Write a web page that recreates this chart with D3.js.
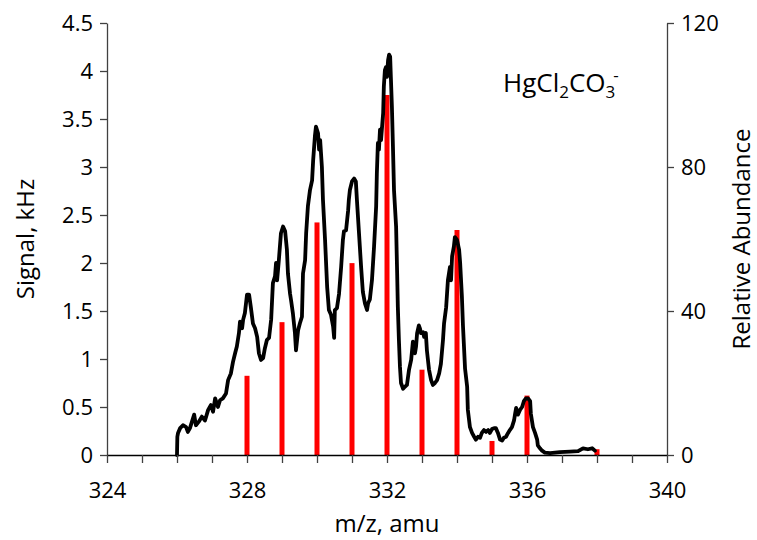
<!DOCTYPE html>
<html>
<head>
<meta charset="utf-8">
<script src="https://cdn.jsdelivr.net/npm/d3@7/dist/d3.min.js"></script>
<style>
  html, body { margin: 0; padding: 0; background: #fff; }
  text { font-family: "Open Sans", "Noto Sans", sans-serif; fill: #000; }
</style>
</head>
<body>
<svg id="chart" width="757" height="540"></svg>
<script>
// ---- data ----
const xTicks = [324, 325, 326, 327, 328, 329, 330, 331, 332, 333, 334, 335, 336, 337, 338, 339, 340];
const xTickLabels = [324, 328, 332, 336, 340];
const leftTicks = [0, 0.5, 1, 1.5, 2, 2.5, 3, 3.5, 4, 4.5];
const rightTicks = [0, 40, 80, 120];

// theoretical isotope pattern (relative abundance)
const barMz = [328, 329, 330, 331, 332, 333, 334, 335, 336, 338];
const barAbundance = [22.0, 36.9, 64.6, 53.3, 100, 23.7, 62.5, 3.9, 16.5, 1.6];

// measured spectrum (m/z, signal kHz)
const specMz = [326.00, 326.01, 326.03, 326.09, 326.17, 326.26, 326.31, 326.37, 326.49, 326.54, 326.63, 326.71, 326.80, 326.89, 326.97, 327.03, 327.09, 327.17, 327.23, 327.31, 327.40, 327.46, 327.54, 327.60, 327.66, 327.71, 327.77, 327.80, 327.86, 327.89, 327.94, 328.00, 328.06, 328.11, 328.17, 328.23, 328.29, 328.34, 328.40, 328.46, 328.51, 328.57, 328.63, 328.69, 328.74, 328.80, 328.83, 328.86, 328.91, 328.97, 329.03, 329.09, 329.14, 329.17, 329.23, 329.26, 329.31, 329.37, 329.40, 329.46, 329.51, 329.57, 329.60, 329.66, 329.69, 329.74, 329.80, 329.86, 329.89, 329.94, 329.97, 330.03, 330.06, 330.09, 330.14, 330.17, 330.23, 330.29, 330.34, 330.40, 330.46, 330.49, 330.51, 330.57, 330.63, 330.69, 330.74, 330.77, 330.83, 330.89, 330.91, 330.94, 331.00, 331.06, 331.11, 331.14, 331.20, 331.26, 331.31, 331.37, 331.43, 331.46, 331.51, 331.57, 331.63, 331.69, 331.71, 331.74, 331.77, 331.80, 331.83, 331.86, 331.89, 331.91, 331.94, 331.97, 332.00, 332.03, 332.06, 332.09, 332.11, 332.14, 332.17, 332.20, 332.26, 332.29, 332.31, 332.34, 332.37, 332.40, 332.46, 332.51, 332.57, 332.63, 332.69, 332.74, 332.77, 332.80, 332.83, 332.86, 332.91, 332.94, 332.97, 333.03, 333.06, 333.11, 333.14, 333.20, 333.26, 333.31, 333.37, 333.43, 333.49, 333.54, 333.60, 333.63, 333.69, 333.74, 333.77, 333.80, 333.83, 333.86, 333.91, 333.94, 334.00, 334.06, 334.09, 334.14, 334.17, 334.23, 334.29, 334.31, 334.37, 334.43, 334.49, 334.54, 334.60, 334.66, 334.71, 334.77, 334.83, 334.89, 334.94, 335.00, 335.06, 335.11, 335.17, 335.23, 335.29, 335.34, 335.40, 335.46, 335.51, 335.57, 335.63, 335.66, 335.69, 335.74, 335.80, 335.86, 335.91, 335.97, 336.03, 336.09, 336.11, 336.17, 336.23, 336.29, 336.31, 336.37, 336.43, 336.51, 336.66, 336.94, 337.23, 337.46, 337.60, 337.74, 337.86, 337.94];
const specSignal = [0.00, 0.19, 0.23, 0.28, 0.31, 0.29, 0.24, 0.28, 0.42, 0.31, 0.35, 0.40, 0.36, 0.47, 0.52, 0.45, 0.59, 0.50, 0.57, 0.59, 0.64, 0.78, 0.85, 0.97, 1.06, 1.13, 1.27, 1.39, 1.32, 1.41, 1.48, 1.67, 1.67, 1.54, 1.37, 1.32, 1.23, 1.06, 0.99, 1.01, 1.11, 1.20, 1.22, 1.41, 1.79, 1.86, 2.00, 1.82, 2.03, 2.31, 2.38, 2.33, 2.14, 1.89, 1.68, 1.61, 1.48, 1.27, 1.09, 1.30, 1.37, 1.44, 1.89, 2.03, 2.31, 2.59, 2.76, 2.86, 3.07, 3.32, 3.42, 3.35, 3.18, 3.28, 3.00, 2.66, 2.24, 1.75, 1.51, 1.46, 1.34, 1.22, 1.51, 1.53, 1.68, 1.96, 2.24, 2.33, 2.34, 2.55, 2.66, 2.76, 2.85, 2.88, 2.85, 2.66, 2.31, 1.96, 1.70, 1.58, 1.51, 1.58, 1.62, 1.82, 2.17, 2.59, 2.93, 3.25, 3.18, 3.39, 3.28, 3.42, 3.56, 3.84, 4.01, 4.04, 3.94, 4.11, 4.17, 4.15, 3.94, 3.63, 3.21, 2.76, 2.38, 1.89, 1.54, 1.20, 0.92, 0.75, 0.69, 0.71, 0.73, 0.89, 0.99, 1.18, 1.16, 1.06, 1.13, 1.27, 1.35, 1.32, 1.27, 1.28, 1.23, 1.27, 1.09, 0.89, 0.78, 0.73, 0.75, 0.78, 0.85, 0.95, 1.20, 1.37, 1.54, 1.82, 1.89, 1.96, 1.82, 2.07, 2.17, 2.27, 2.24, 2.14, 2.00, 1.65, 1.35, 0.90, 0.71, 0.47, 0.29, 0.23, 0.19, 0.16, 0.19, 0.18, 0.23, 0.26, 0.24, 0.26, 0.23, 0.27, 0.28, 0.28, 0.23, 0.16, 0.15, 0.18, 0.19, 0.23, 0.26, 0.29, 0.36, 0.43, 0.49, 0.42, 0.47, 0.50, 0.56, 0.59, 0.59, 0.56, 0.43, 0.29, 0.23, 0.16, 0.10, 0.07, 0.045, 0.025, 0.02, 0.03, 0.035, 0.04, 0.07, 0.06, 0.07, 0.045];

// ---- layout ----
const W = 757, H = 540;
const m = { left: 107, right: 90, top: 23, bottom: 85 };
const x0 = m.left, x1 = W - m.right, y0 = H - m.bottom, y1 = m.top;

const svg = d3.select("#chart");
svg.append("rect").attr("width", W).attr("height", H).attr("fill", "#fff");

const x = d3.scaleLinear().domain([324, 340]).range([x0, x1]);
const yL = d3.scaleLinear().domain([0, 4.5]).range([y0, y1]);
const yR = d3.scaleLinear().domain([0, 120]).range([y0, y1]);

const axisColor = "#404040";

// left axis
const gL = svg.append("g").attr("transform", `translate(${x0},0)`)
  .call(d3.axisLeft(yL).tickValues(leftTicks).tickFormat(d => String(d)).tickSize(7).tickPadding(7).tickSizeOuter(0));
// right axis
const gR = svg.append("g").attr("transform", `translate(${x1},0)`)
  .call(d3.axisRight(yR).tickValues(rightTicks).tickFormat(d => String(d)).tickSize(7).tickPadding(7).tickSizeOuter(0));

// bars
svg.append("g").selectAll("rect").data(barMz).join("rect")
  .attr("x", (d) => x(d) - 2.5)
  .attr("width", 5)
  .attr("y", (d, i) => yR(barAbundance[i]))
  .attr("height", (d, i) => y0 - yR(barAbundance[i]))
  .attr("fill", "#ff0000");

// spectrum line
const pts = specMz.map((d, i) => [d, specSignal[i]]);
svg.append("path").datum(pts)
  .attr("fill", "none").attr("stroke", "#000").attr("stroke-width", 3.8)
  .attr("stroke-linejoin", "round").attr("stroke-linecap", "round")
  .attr("d", d3.line().x(d => x(d[0])).y(d => yL(d[1])));

// bottom axis (drawn last, over bars)
const gB = svg.append("g").attr("transform", `translate(0,${y0})`)
  .call(d3.axisBottom(x).tickValues(xTicks)
    .tickFormat(d => xTickLabels.includes(d) ? String(d) : "")
    .tickSize(8).tickPadding(19).tickSizeOuter(0));

[gL, gR, gB].forEach(g => {
  g.selectAll("path.domain").attr("stroke", axisColor).attr("stroke-width", 1.3);
  g.selectAll(".tick line").attr("stroke", axisColor).attr("stroke-width", 1.3);
  g.selectAll(".tick text").attr("font-size", 22).attr("font-family", "'Open Sans', sans-serif").attr("fill", "#000");
});
gB.select("path.domain").attr("stroke", "#000");

// axis titles
svg.append("text")
  .attr("transform", `translate(34,${(y0 + y1) / 2}) rotate(-90)`)
  .attr("text-anchor", "middle").attr("font-size", 24)
  .text("Signal, kHz");
svg.append("text")
  .attr("transform", `translate(750,${(y0 + y1) / 2}) rotate(-90)`)
  .attr("text-anchor", "middle").attr("font-size", 24)
  .text("Relative Abundance");
svg.append("text")
  .attr("x", (x0 + x1) / 2).attr("y", 532)
  .attr("text-anchor", "middle").attr("font-size", 24)
  .text("m/z, amu");

// formula label
const f = svg.append("text").attr("x", 503).attr("y", 92).attr("font-size", 26);
f.append("tspan").text("HgCl");
f.append("tspan").attr("font-size", 17).attr("dy", 6).text("2");
f.append("tspan").attr("dy", -6).text("CO");
f.append("tspan").attr("font-size", 17).attr("dy", 6).text("3");
f.append("tspan").attr("font-size", 17).attr("dy", -17).attr("dx", -2).text("-");
</script>
</body>
</html>
